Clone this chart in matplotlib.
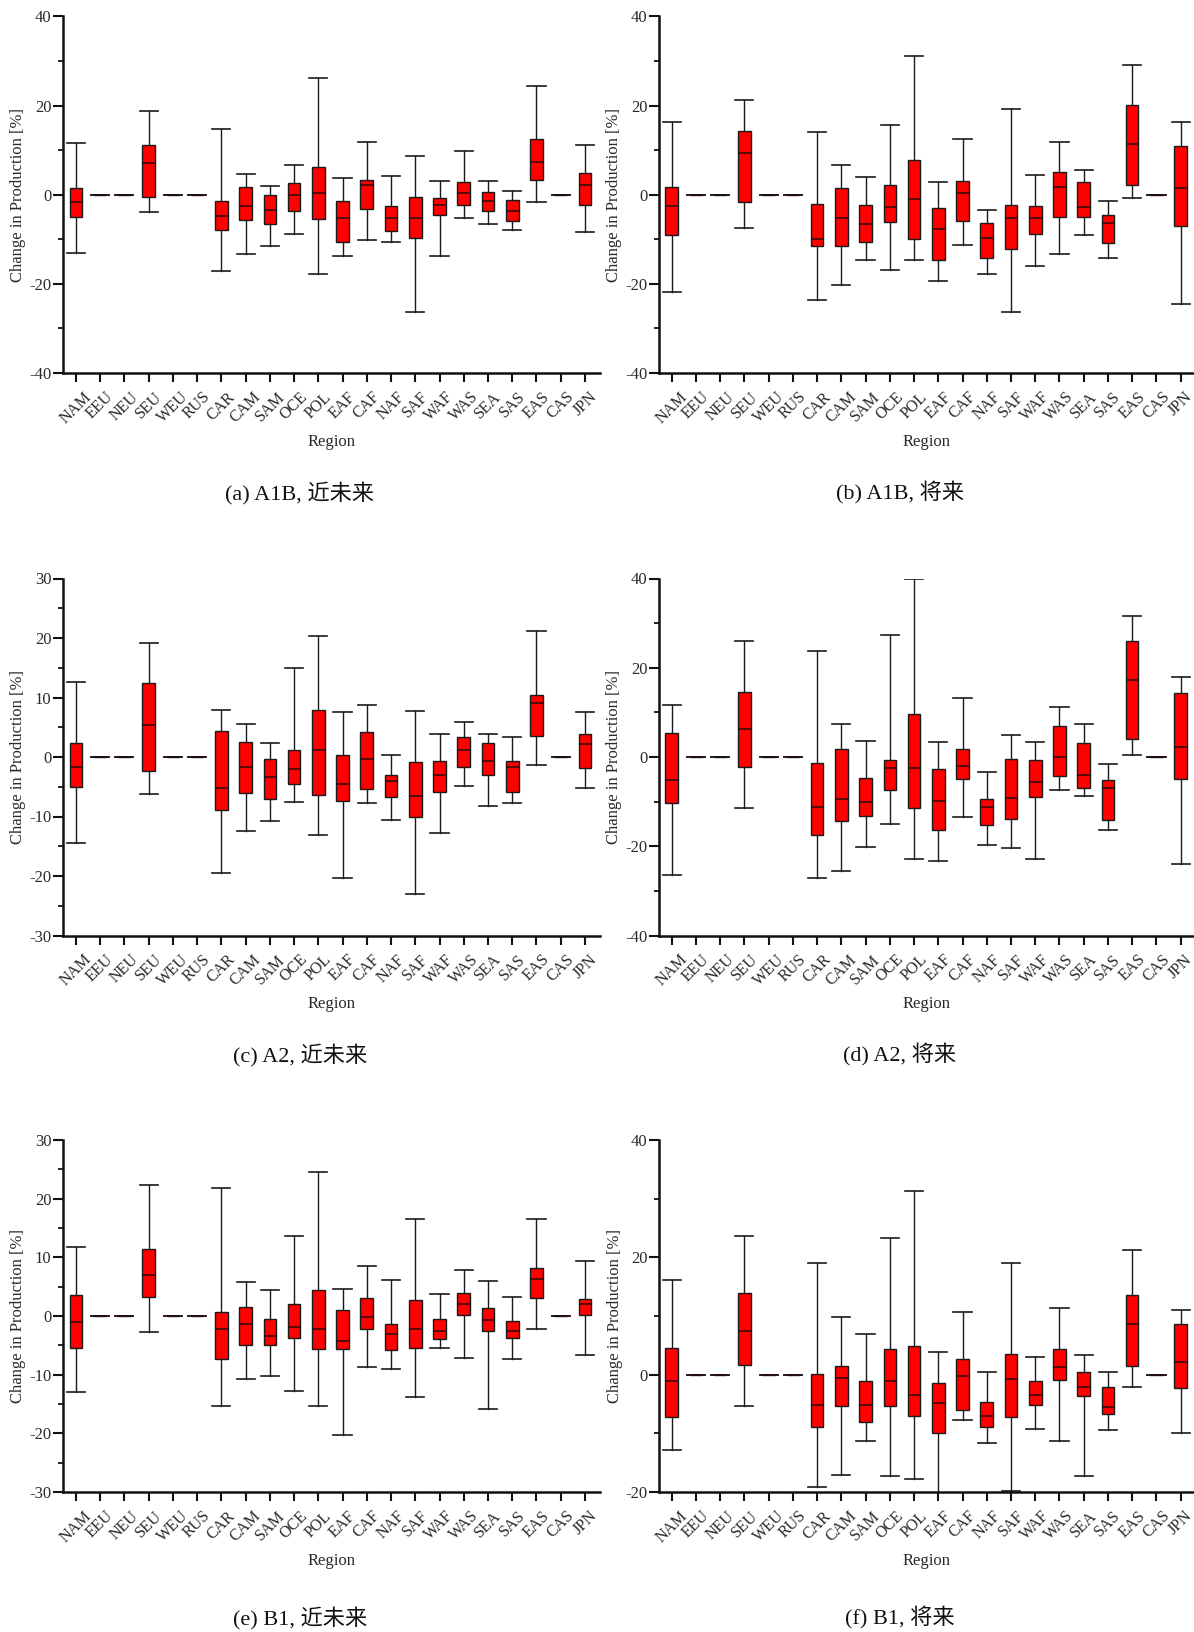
import matplotlib
matplotlib.use("Agg")
import matplotlib.pyplot as plt
from matplotlib.ticker import MultipleLocator

plt.rcParams["axes.unicode_minus"] = False

regions = ["NAM", "EEU", "NEU", "SEU", "WEU", "RUS", "CAR", "CAM", "SAM", "OCE", "POL",
           "EAF", "CAF", "NAF", "SAF", "WAF", "WAS", "SEA", "SAS", "EAS", "CAS", "JPN"]

# (a) A1B near future
a_whishi = [11.7, 0, 0, 18.7, 0, 0, 14.7, 4.7, 2.0, 6.7, 26.2, 3.8, 11.8, 4.1, 8.7, 3.1, 9.9, 3.1, 0.9, 24.4, 0, 11.1]
a_q3 = [1.5, 0, 0, 11.1, 0, 0, -1.3, 1.8, 0.0, 2.6, 6.3, -1.4, 3.4, -2.5, -0.5, -0.8, 2.8, 0.7, -1.1, 12.6, 0, 4.8]
a_med = [-1.7, 0, 0, 7.1, 0, 0, -4.7, -2.6, -3.5, -0.1, 0.4, -5.2, 2.1, -5.2, -5.2, -2.4, 0.4, -1.3, -3.6, 7.3, 0, 2.1]
a_q1 = [-4.9, 0, 0, -0.4, 0, 0, -7.9, -5.7, -6.6, -3.7, -5.5, -10.7, -3.2, -8.1, -9.8, -4.5, -2.2, -3.6, -5.8, 3.3, 0, -2.2]
a_whislo = [-13.1, 0, 0, -3.8, 0, 0, -17.0, -13.3, -11.4, -8.9, -17.7, -13.8, -10.2, -10.7, -26.3, -13.7, -5.3, -6.6, -7.8, -1.7, 0, -8.4]

# (b) A1B future
b_whishi = [16.4, 0, 0, 21.3, 0, 0, 14.1, 6.7, 3.9, 15.6, 31.2, 2.8, 12.4, -3.5, 19.2, 4.5, 11.9, 5.5, -1.3, 29.1, 0, 16.3]
b_q3 = [1.7, 0, 0, 14.4, 0, 0, -2.1, 1.5, -2.2, 2.2, 7.9, -3.0, 3.0, -6.4, -2.2, -2.5, 5.1, 2.8, -4.5, 20.2, 0, 11.0]
b_med = [-2.6, 0, 0, 9.3, 0, 0, -9.9, -5.2, -6.5, -2.8, -0.9, -7.7, 0.4, -9.6, -5.2, -5.3, 1.7, -2.8, -6.4, 11.4, 0, 1.6]
b_q1 = [-9.0, 0, 0, -1.6, 0, 0, -11.6, -11.6, -10.5, -6.2, -9.9, -14.7, -5.8, -14.2, -12.1, -8.7, -4.9, -4.9, -10.9, 2.1, 0, -7.0]
b_whislo = [-21.8, 0, 0, -7.4, 0, 0, -23.7, -20.2, -14.7, -16.8, -14.6, -19.3, -11.2, -17.8, -26.3, -15.9, -13.2, -9.0, -14.1, -0.7, 0, -24.5]

# (c) A2 near future
c_whishi = [12.6, 0, 0, 19.1, 0, 0, 7.9, 5.5, 2.3, 14.9, 20.4, 7.5, 8.8, 0.3, 7.7, 3.8, 5.9, 3.8, 3.3, 21.1, 0, 7.5]
c_q3 = [2.4, 0, 0, 12.5, 0, 0, 4.3, 2.6, -0.3, 1.2, 7.9, 0.3, 4.2, -3.1, -0.8, -0.7, 3.4, 2.3, -0.6, 10.4, 0, 3.9]
c_med = [-1.6, 0, 0, 5.3, 0, 0, -5.2, -1.7, -3.3, -2.0, 1.2, -4.5, -0.4, -4.0, -6.6, -3.1, 1.1, -0.6, -1.7, 9.0, 0, 2.2]
c_q1 = [-5.0, 0, 0, -2.3, 0, 0, -8.9, -6.1, -7.0, -4.5, -6.4, -7.4, -5.4, -6.8, -10.0, -5.9, -1.6, -3.1, -5.9, 3.6, 0, -1.9]
c_whislo = [-14.4, 0, 0, -6.2, 0, 0, -19.5, -12.4, -10.7, -7.6, -13.1, -20.4, -7.7, -10.6, -23.1, -12.8, -4.8, -8.3, -7.8, -1.3, 0, -5.2]

# (d) A2 future
d_whishi = [11.7, 0, 0, 25.9, 0, 0, 23.8, 7.3, 3.6, 27.4, 39.9, 3.4, 13.2, -3.3, 5.0, 3.4, 11.1, 7.3, -1.5, 31.5, 0, 18.0]
d_q3 = [5.4, 0, 0, 14.6, 0, 0, -1.3, 1.8, -4.7, -0.7, 9.6, -2.6, 1.8, -9.3, -0.4, -0.7, 6.9, 3.1, -5.2, 25.9, 0, 14.3]
d_med = [-5.1, 0, 0, 6.3, 0, 0, -11.1, -9.3, -10.1, -2.5, -2.5, -9.9, -2.1, -11.1, -9.2, -5.7, -0.1, -4.0, -7.0, 17.2, 0, 2.2]
d_q1 = [-10.2, 0, 0, -2.2, 0, 0, -17.5, -14.4, -13.2, -7.5, -11.4, -16.4, -4.9, -15.3, -13.8, -9.0, -4.3, -7.0, -14.1, 4.1, 0, -5.0]
d_whislo = [-26.4, 0, 0, -11.4, 0, 0, -27.1, -25.5, -20.1, -15.0, -22.8, -23.3, -13.4, -19.7, -20.4, -22.9, -7.3, -8.7, -16.4, 0.5, 0, -23.9]

# (e) B1 near future
e_whishi = [11.8, 0, 0, 22.3, 0, 0, 21.9, 5.8, 4.4, 13.6, 24.6, 4.6, 8.5, 6.1, 16.6, 3.8, 7.8, 5.9, 3.3, 16.5, 0, 9.4]
e_q3 = [3.5, 0, 0, 11.4, 0, 0, 0.7, 1.5, -0.5, 2.1, 4.5, 1.0, 3.0, -1.3, 2.7, -0.5, 3.9, 1.4, -0.8, 8.2, 0, 2.9]
e_med = [-1.0, 0, 0, 7.0, 0, 0, -2.3, -1.4, -3.4, -1.8, -2.2, -4.2, -0.2, -3.1, -2.3, -2.6, 2.1, -0.7, -2.5, 6.3, 0, 2.1]
e_q1 = [-5.4, 0, 0, 3.3, 0, 0, -7.4, -4.9, -4.9, -3.8, -5.6, -5.7, -2.3, -5.8, -5.4, -4.0, 0.2, -2.5, -3.7, 3.1, 0, 0.1]
e_whislo = [-13.0, 0, 0, -2.7, 0, 0, -15.4, -10.8, -10.2, -12.7, -15.4, -20.3, -8.7, -9.1, -13.8, -5.5, -7.1, -15.9, -7.3, -2.3, 0, -6.6]

# (f) B1 future
f_whishi = [16.1, 0, 0, 23.7, 0, 0, 19.0, 9.9, 6.9, 23.3, 31.3, 3.8, 10.6, 0.5, 19.0, 3.0, 11.4, 3.3, 0.4, 21.2, 0, 11.1]
f_q3 = [4.5, 0, 0, 13.9, 0, 0, 0.1, 1.4, -1.1, 4.4, 4.9, -1.5, 2.7, -4.7, 3.5, -1.1, 4.3, 0.4, -2.1, 13.5, 0, 8.7]
f_med = [-1.0, 0, 0, 7.4, 0, 0, -5.1, -0.6, -5.1, -1.0, -3.5, -4.9, -0.3, -7.1, -0.7, -3.5, 1.3, -2.1, -5.5, 8.6, 0, 2.2]
f_q1 = [-7.3, 0, 0, 1.7, 0, 0, -8.9, -5.3, -8.1, -5.3, -7.0, -9.9, -6.0, -9.0, -7.3, -5.1, -0.9, -3.7, -6.7, 1.4, 0, -2.2]
f_whislo = [-12.9, 0, 0, -5.3, 0, 0, -19.1, -17.1, -11.3, -17.2, -17.7, -22.0, -7.7, -11.6, -19.8, -9.3, -11.3, -17.2, -9.5, -2.1, 0, -9.9]

captions = ["(a) A1B, 近未来", "(b) A1B, 将来", "(c) A2, 近未来",
            "(d) A2, 将来", "(e) B1, 近未来", "(f) B1, 将来"]
ylims = [(-40, 40), (-40, 40), (-30, 30), (-40, 40), (-30, 30), (-20, 40)]
ymajor = [20, 20, 10, 20, 10, 20]
yminor = [10, 10, 5, 10, 5, 10]

panels = [
    (a_whislo, a_q1, a_med, a_q3, a_whishi),
    (b_whislo, b_q1, b_med, b_q3, b_whishi),
    (c_whislo, c_q1, c_med, c_q3, c_whishi),
    (d_whislo, d_q1, d_med, d_q3, d_whishi),
    (e_whislo, e_q1, e_med, e_q3, e_whishi),
    (f_whislo, f_q1, f_med, f_q3, f_whishi),
]

SERIF = "Liberation Serif"
CAPFONT = ["Liberation Serif", "Noto Sans CJK SC"]
TXT = "#2a2a2a"

W, H = 1194, 1632
fig = plt.figure(figsize=(W / 100, H / 100), dpi=100)

# pixel layout [left, right, xlim0, xlim1] and [top, bottom]
cols = [(63.3, 600.0, -0.52, 21.62), (659.3, 1194.0, -0.51, 21.55)]
rows = [(16.5, 373.0), (578.5, 935.5), (1140.0, 1492.0)]
cap_y = [493, 1055, 1618]
cap_x = [300, 900]

for i, (whislo, q1, med, q3, whishi) in enumerate(panels):
    r, c = divmod(i, 2)
    lpx, rpx, xl0, xl1 = cols[c]
    tpx, bpx = rows[r]
    ax = fig.add_axes([lpx / W, 1 - bpx / H, (rpx - lpx) / W, (bpx - tpx) / H])
    stats = []
    for k, name in enumerate(regions):
        stats.append(dict(label=name, whislo=whislo[k], q1=q1[k], med=med[k],
                          q3=q3[k], whishi=whishi[k], fliers=[]))
    ax.bxp(stats, positions=list(range(len(regions))), widths=0.52, capwidths=0.75,
           patch_artist=True, showfliers=False,
           boxprops=dict(facecolor="#ff0000", edgecolor="#1a1a1a", linewidth=1.0),
           medianprops=dict(color="#2a0a0a", linewidth=1.1),
           whiskerprops=dict(color="#1a1a1a", linewidth=1.0),
           capprops=dict(color="#1a1a1a", linewidth=1.2))
    ax.set_xlim(xl0, xl1)
    ax.set_ylim(*ylims[i])
    ax.yaxis.set_major_locator(MultipleLocator(ymajor[i]))
    ax.yaxis.set_minor_locator(MultipleLocator(yminor[i]))
    for s in ["top", "right"]:
        ax.spines[s].set_visible(False)
    for s in ["left", "bottom"]:
        ax.spines[s].set_linewidth(1.8)
        ax.spines[s].set_color("#111111")
    ax.tick_params(axis="x", which="major", direction="out", length=6.5, width=1.5,
                   color="#111111", pad=5)
    ax.tick_params(axis="y", which="major", direction="out", length=7, width=1.5,
                   color="#111111", labelcolor=TXT, labelsize=12, pad=1.5)
    ax.tick_params(axis="y", which="minor", direction="out", length=3.6, width=1.3,
                   color="#111111")
    ax.set_xticks(range(len(regions)))
    ax.set_xticklabels(regions, rotation=45, ha="center", va="top",
                       family=SERIF, fontsize=11.5, color=TXT)
    for lab in ax.get_yticklabels():
        lab.set_family(SERIF)
    ax.set_xlabel("Region", family=SERIF, fontsize=12, color=TXT, labelpad=5)
    ax.set_ylabel("Change in Production [%]", family=SERIF, fontsize=12,
                  color=TXT, labelpad=2)
    ax.set_facecolor("white")
    fig.text(cap_x[c] / W, 1 - cap_y[r] / H, captions[i], family=CAPFONT,
             fontsize=16, ha="center", va="center", color="#111111")

fig.savefig("out.png", dpi=100, facecolor="white")
